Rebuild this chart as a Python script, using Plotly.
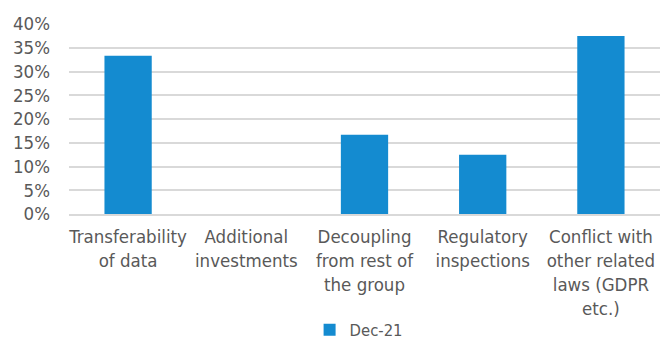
import plotly.graph_objects as go

categories = ["Transferability<br>of data", "Additional<br>investments", "Decoupling<br>from rest of<br>the group",
              "Regulatory<br>inspections", "Conflict with<br>other related<br>laws (GDPR<br>etc.)"]
values = [0.3333, 0.0, 0.1667, 0.125, 0.375]
series_name = "Dec-21"
y_ticks = [0, 0.05, 0.10, 0.15, 0.20, 0.25, 0.30, 0.35, 0.40]

font_family = "DejaVu Sans Condensed, Roboto, sans-serif"
text_color = "#595959"

fig = go.Figure()
fig.add_trace(go.Bar(x=categories, y=values, name=series_name,
                     marker=dict(color="#148BD0", line=dict(width=0)),
                     width=0.4))
fig.update_layout(
    width=661, height=341,
    margin=dict(l=69, r=1, t=24, b=127, autoexpand=False),
    plot_bgcolor="white", paper_bgcolor="white",
    font=dict(family=font_family, size=18.5, color=text_color),
    showlegend=True,
    legend=dict(orientation="h", x=0.49, xanchor="center", y=-0.61, yanchor="middle",
                font=dict(size=16.5, color=text_color), itemwidth=30),
)
fig.update_yaxes(range=[0, 0.40], tickvals=y_ticks, tickformat=".0%",
                 showgrid=True, gridcolor="#D9D9D9", gridwidth=1.5, automargin=False,
                 zeroline=False, showline=False, ticks="", ticklabelstandoff=18)
fig.update_xaxes(showgrid=False, showline=True, linecolor="#D9D9D9", linewidth=1.5,
                 automargin=False, ticks="", tickangle=0, ticklabelstandoff=5)
fig.write_html("out.html")
